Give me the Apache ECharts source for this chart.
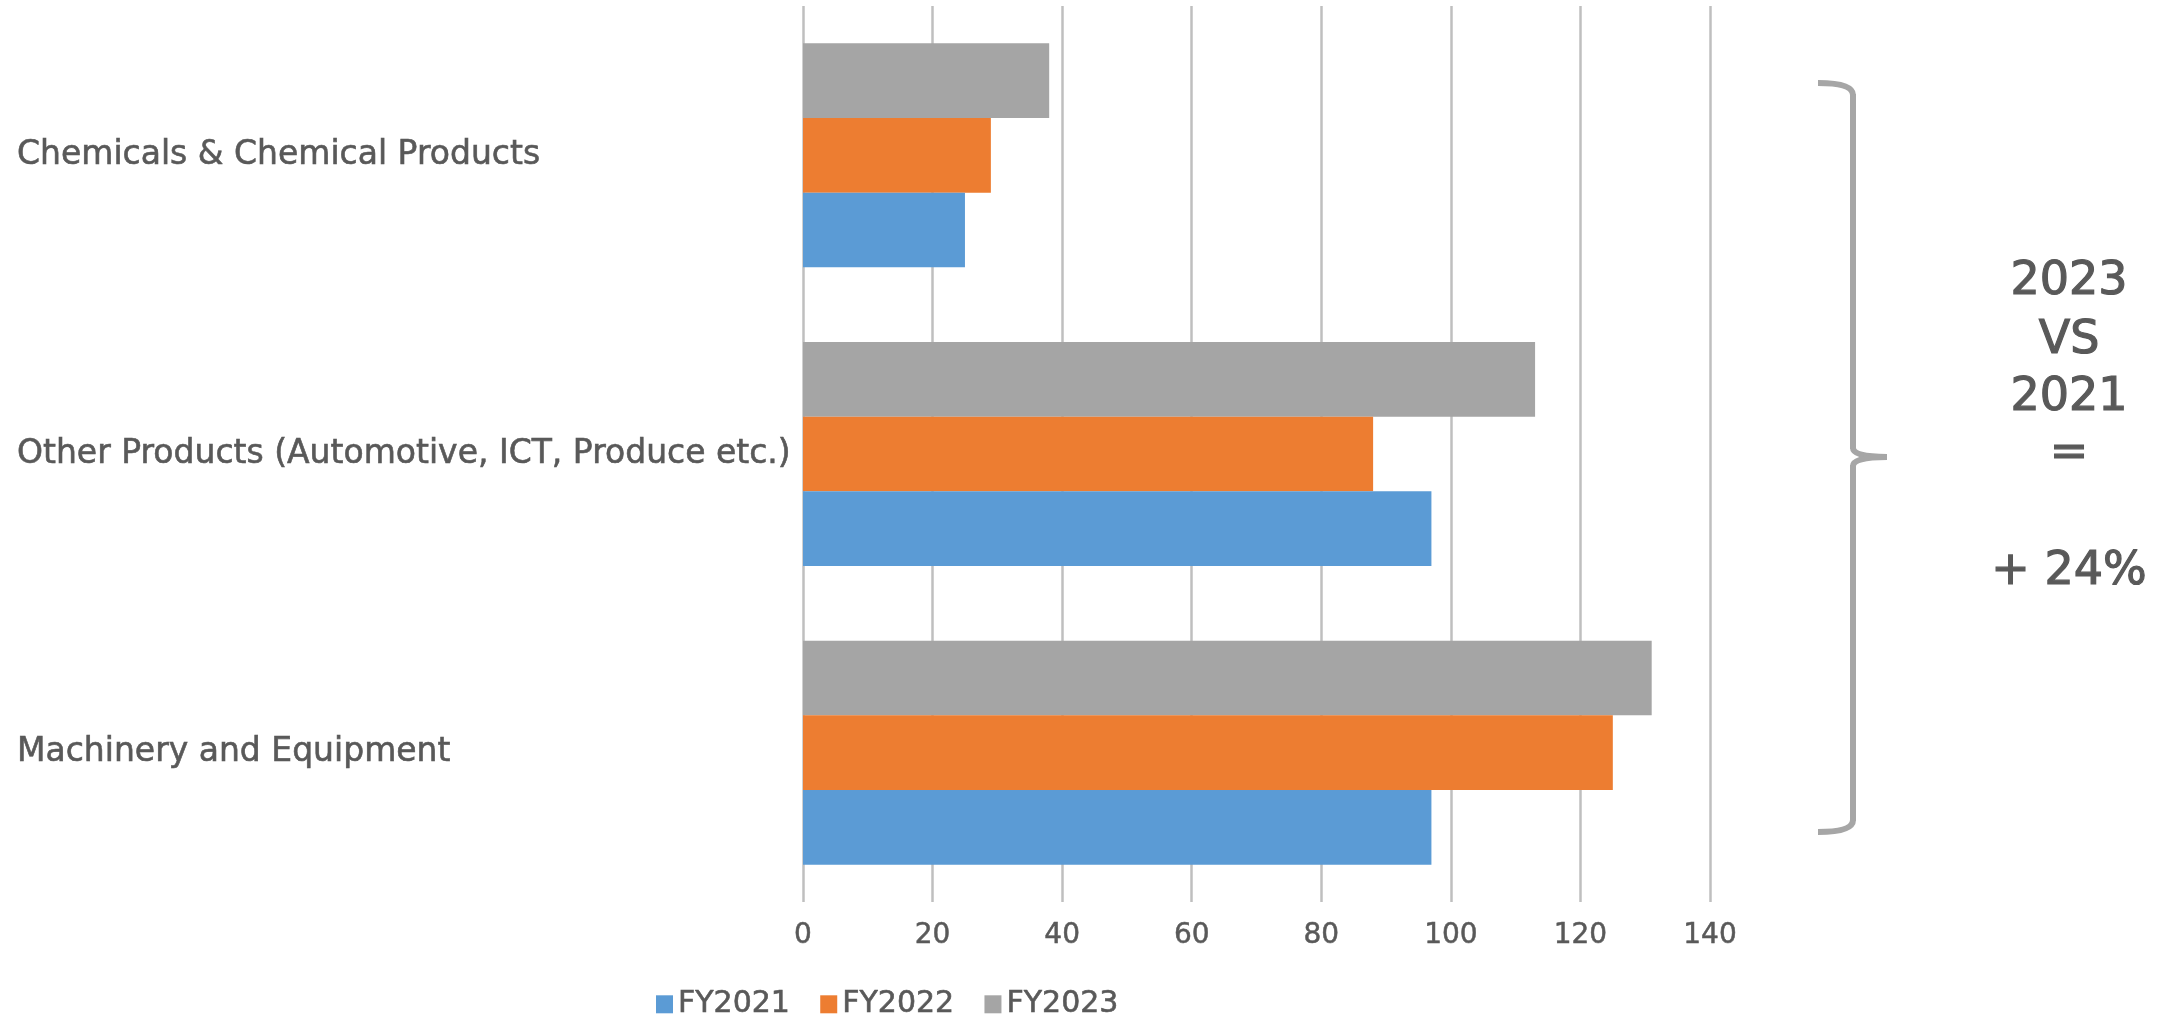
<!DOCTYPE html>
<html>
<head>
<meta charset="utf-8">
<script src="https://cdn.jsdelivr.net/npm/echarts@6/dist/echarts.min.js"></script>
<style>
  html, body { margin: 0; padding: 0; background: #ffffff; }
  #chart { width: 2172px; height: 1016px; }
</style>
</head>
<body>
<div id="chart"></div>
<script>
// Categories listed bottom-to-top (ECharts category y axis starts at the bottom)
const categories = [
  'Machinery and Equipment',
  'Other Products (Automotive, ICT, Produce etc.)',
  'Chemicals & Chemical Products'
];
const seriesNames = ['FY2021', 'FY2022', 'FY2023'];
const fy2021 = [97, 97, 25];
const fy2022 = [125, 88, 29];
const fy2023 = [131, 113, 38];
const xTicks = [0, 20, 40, 60, 80, 100, 120, 140];
const noteLines = ['2023', 'VS', '2021', '=', '', '+ 24%'];

const colors = ['#5B9BD5', '#ED7D31', '#A5A5A5'];
const FONT = 'DejaVu Sans';
const TXT = '#595959';

const chart = echarts.init(document.getElementById('chart'), null, { renderer: 'canvas' });

const bracketStyle = { stroke: '#A6A6A6', lineWidth: 6, fill: 'none' };
const graphics = [
  { type: 'bezierCurve', shape: { x1: 1818, y1: 83, x2: 1853, y2: 95, cpx1: 1853, cpy1: 83 }, style: bracketStyle },
  { type: 'line', shape: { x1: 1853, y1: 94, x2: 1853, y2: 449 }, style: bracketStyle },
  { type: 'bezierCurve', shape: { x1: 1853, y1: 448, x2: 1887, y2: 457, cpx1: 1853, cpy1: 457 }, style: bracketStyle },
  { type: 'bezierCurve', shape: { x1: 1887, y1: 457, x2: 1853, y2: 466, cpx1: 1853, cpy1: 457 }, style: bracketStyle },
  { type: 'line', shape: { x1: 1853, y1: 465, x2: 1853, y2: 821 }, style: bracketStyle },
  { type: 'bezierCurve', shape: { x1: 1853, y1: 820, x2: 1818, y2: 832, cpx1: 1853, cpy1: 832 }, style: bracketStyle }
];
const noteY = [282, 341, 398, 454, 512, 572];
noteLines.forEach((t, i) => {
  if (!t) return;
  graphics.push({
    type: 'text',
    x: 2069,
    y: noteY[i],
    style: {
      text: t,
      fill: TXT,
      fontSize: 46,
      fontFamily: FONT,
      align: 'center',
      verticalAlign: 'middle',
      stroke: TXT,
      lineWidth: 1.2
    }
  });
});

const dataSets = [fy2021, fy2022, fy2023];
// ECharts lays the first series at the top of a horizontal band; the reference has FY2021 at the bottom
const order = [2, 1, 0];

chart.setOption({
  animation: false,
  backgroundColor: '#ffffff',
  color: colors,
  grid: { left: 803, right: 462, top: 6, bottom: 114, containLabel: false },
  legend: {
    data: seriesNames,
    left: 651,
    top: 984,
    icon: 'rect',
    itemWidth: 17,
    itemHeight: 18,
    itemGap: 30,
    textStyle: { fontFamily: FONT, fontSize: 30, color: TXT, textBorderColor: TXT, textBorderWidth: 0.6 }
  },
  xAxis: {
    type: 'value',
    min: 0,
    max: 140,
    interval: 20,
    axisLine: { show: false },
    axisTick: { show: false },
    splitLine: { show: true, lineStyle: { color: '#BFBFBF', width: 2.5 } },
    axisLabel: {
      fontFamily: FONT,
      fontSize: 28,
      color: TXT,
      textBorderColor: TXT,
      textBorderWidth: 0.5,
      margin: 20,
      formatter: v => (xTicks.indexOf(v) >= 0 ? String(v) : '')
    }
  },
  yAxis: {
    type: 'category',
    data: categories,
    axisLine: { show: false },
    axisTick: { show: false },
    splitLine: { show: false },
    axisLabel: {
      fontFamily: FONT,
      fontSize: 33,
      color: TXT,
      textBorderColor: TXT,
      textBorderWidth: 0.6,
      align: 'left',
      margin: 786,
      padding: [8, 0, 0, 0]
    }
  },
  series: order.map(i => ({
    name: seriesNames[i],
    type: 'bar',
    data: dataSets[i],
    barGap: '0%',
    barCategoryGap: '25%',
    itemStyle: { color: colors[i] }
  })),
  graphic: graphics
});
</script>
</body>
</html>
